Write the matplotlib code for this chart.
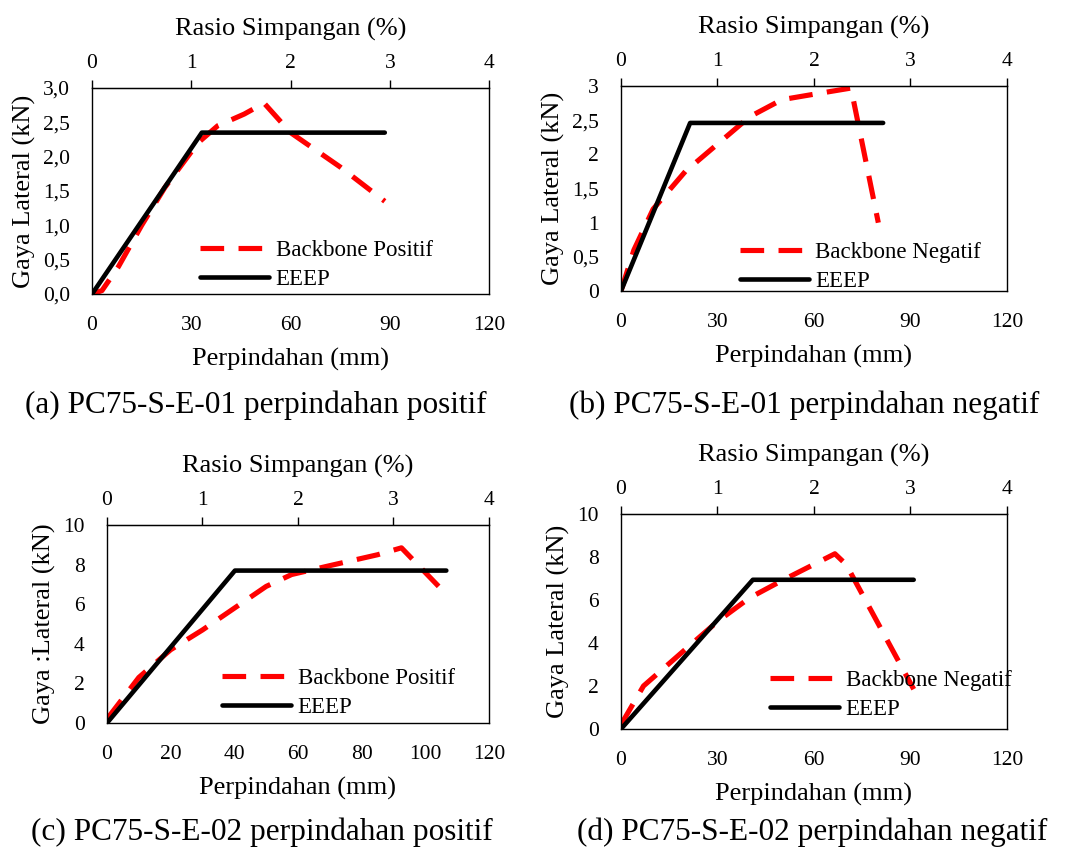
import matplotlib.pyplot as plt
from matplotlib.ticker import FuncFormatter

plt.rcParams["font.family"] = ["Liberation Serif", "DejaVu Serif"]

# (a) PC75-S-E-01 positive
a_bb_x = [0, 3, 8, 15, 22, 32, 38, 46, 52, 60, 75, 88.5]
a_bb_y = [0, 0.05, 0.4, 1.0, 1.55, 2.2, 2.45, 2.62, 2.78, 2.35, 1.85, 1.35]
a_ep_x = [0, 33.2, 88.5]
a_ep_y = [0, 2.35, 2.35]

# (b) PC75-S-E-01 negative
b_bb_x = [0, 4, 10, 20, 30, 40, 50, 60, 71.5, 80]
b_bb_y = [0, 0.6, 1.2, 1.75, 2.15, 2.55, 2.8, 2.88, 2.97, 1.0]
b_ep_x = [0, 21.5, 81.5]
b_ep_y = [0, 2.46, 2.46]

# (c) PC75-S-E-02 positive
c_bb_x = [0, 10, 20, 30, 40, 50, 58, 70, 85, 92.5, 106.6]
c_bb_y = [0.2, 2.3, 3.7, 4.7, 5.8, 6.9, 7.5, 7.95, 8.5, 8.85, 6.5]
c_ep_x = [0, 40.2, 106.6]
c_ep_y = [0, 7.7, 7.7]

# (d) PC75-S-E-02 negative
d_bb_x = [0, 7, 20, 30, 40, 50, 66.5, 70, 91]
d_bb_y = [0.2, 2.0, 3.7, 5.0, 6.1, 6.9, 8.15, 7.65, 1.85]
d_ep_x = [0, 41, 91]
d_ep_y = [0, 6.94, 6.94]

captions = [
    "(a) PC75-S-E-01 perpindahan positif",
    "(b) PC75-S-E-01 perpindahan negatif",
    "(c) PC75-S-E-02 perpindahan positif",
    "(d) PC75-S-E-02 perpindahan negatif",
]


def comma1(v, pos):
    return f"{v:.1f}".replace(".", ",")


def general(v, pos):
    if abs(v - round(v)) < 1e-9:
        return f"{int(round(v))}"
    return f"{v:g}".replace(".", ",")


def draw(ax, bb_x, bb_y, ep_x, ep_y, bb_label, ymax, yticks, yfmt, xticks,
         ylabel, leg_xy):
    ax.plot(bb_x, bb_y, color="red", lw=3.7, dashes=(4.6, 2.8), label=bb_label)
    ax.plot(ep_x, ep_y, color="black", lw=3.3, label="EEEP",
            solid_capstyle="round")
    ax.set_xlim(0, 120)
    ax.set_ylim(0, ymax)
    ax.set_xticks(xticks)
    ax.set_yticks(yticks)
    ax.yaxis.set_major_formatter(FuncFormatter(yfmt))
    ax.tick_params(axis="both", length=0, labelsize=15.5, pad=16)
    for s in ax.spines.values():
        s.set_linewidth(1.0)
    ax.set_xlabel("Perpindahan (mm)", fontsize=19, labelpad=9)
    ax.set_ylabel(ylabel, fontsize=19, labelpad=5)

    sec = ax.secondary_xaxis("top", functions=(lambda x: x / 30, lambda r: r * 30))
    sec.set_xticks([0, 1, 2, 3, 4])
    sec.tick_params(direction="out", length=6, width=1.0, labelsize=15.5, pad=5)
    sec.set_xlabel("Rasio Simpangan (%)", fontsize=19, labelpad=13)

    ax.legend(loc="upper left", bbox_to_anchor=leg_xy, frameon=False,
              fontsize=16.5, handlelength=3.0, handletextpad=0.3,
              labelspacing=0.35, borderpad=0, borderaxespad=0)


fig = plt.figure(figsize=(10.74, 8.5), dpi=100)

ax_a = fig.add_axes([0.0857, 0.6541, 0.3696, 0.2424])
ax_b = fig.add_axes([0.5782, 0.6576, 0.3594, 0.2412])
ax_c = fig.add_axes([0.0996, 0.1494, 0.3557, 0.2329])
ax_d = fig.add_axes([0.5782, 0.1424, 0.3594, 0.2529])

draw(ax_a, a_bb_x, a_bb_y, a_ep_x, a_ep_y, "Backbone Positif", 3.0,
     [0, 0.5, 1, 1.5, 2, 2.5, 3], comma1, [0, 30, 60, 90, 120],
     "Gaya Lateral (kN)", (0.272, 0.262))
draw(ax_b, b_bb_x, b_bb_y, b_ep_x, b_ep_y, "Backbone Negatif", 3.0,
     [0, 0.5, 1, 1.5, 2, 2.5, 3], general, [0, 30, 60, 90, 120],
     "Gaya Lateral (kN)", (0.308, 0.240))
draw(ax_c, c_bb_x, c_bb_y, c_ep_x, c_ep_y, "Backbone Positif", 10,
     [0, 2, 4, 6, 8, 10], general, [0, 20, 40, 60, 80, 100, 120],
     "Gaya :Lateral (kN)", (0.301, 0.278))
draw(ax_d, d_bb_x, d_bb_y, d_ep_x, d_ep_y, "Backbone Negatif", 10,
     [0, 2, 4, 6, 8, 10], general, [0, 30, 60, 90, 120],
     "Gaya Lateral (kN)", (0.386, 0.275))

cap_pos = [(256, 405), (804, 405), (262, 832), (812, 832)]
for (px, py), txt in zip(cap_pos, captions):
    fig.text(px / 1074, 1 - py / 850, txt, fontsize=22.5, ha="center", va="center")

fig.savefig("out.png", dpi=100)
